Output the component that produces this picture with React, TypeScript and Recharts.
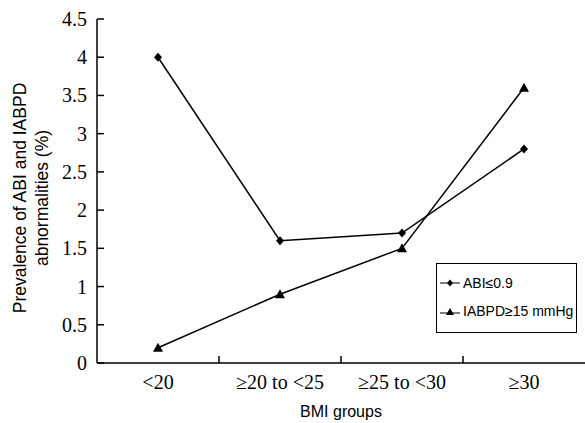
import { LineChart, Line, XAxis, YAxis } from 'recharts'

const groups = ['<20', '≥20 to <25', '≥25 to <30', '≥30']
const abi = [4.0, 1.6, 1.7, 2.8]
const iabpd = [0.2, 0.9, 1.5, 3.6]
const yTicks = [0, 0.5, 1, 1.5, 2, 2.5, 3, 3.5, 4, 4.5]

const data = groups.map((g, i) => ({ group: g, abi: abi[i], iabpd: iabpd[i] }))

const serif = 'Liberation Serif'
const sans = 'Liberation Sans'

const Diamond = (p: any) => {
  const { cx, cy } = p
  return <polygon key={p.index} points={`${cx},${cy - 4.5} ${cx + 4},${cy} ${cx},${cy + 4.5} ${cx - 4},${cy}`} fill="#000" />
}

const Triangle = (p: any) => {
  const { cx, cy } = p
  return <polygon key={p.index} points={`${cx},${cy - 5} ${cx + 5},${cy + 4} ${cx - 5},${cy + 4}`} fill="#000" />
}

// category label + inward tick mark at the left edge of each band (except the first)
const XTick = (p: any) => {
  const { x, y, payload, index } = p
  const half = payload?.offset || 61
  return (
    <g>
      {index > 0 && <line x1={x - half} y1={y} x2={x - half} y2={y - 7} stroke="#000" strokeWidth={1.5} />}
      <text x={x} y={y + 26} textAnchor="middle" fontFamily={serif} fontSize={20} fill="#000" style={{ fontFamily: serif }}>{payload.value}</text>
    </g>
  )
}

const YTick = (p: any) => {
  const { x, y, payload } = p
  return (
    <text x={x} y={y} dy="0.35em" textAnchor="end" fontFamily={serif} fontSize={20} fill="#000" style={{ fontFamily: serif }}>{payload.value}</text>
  )
}

const LegendBox = () => (
  <div style={{ position: 'absolute', left: 436, top: 263, border: '1px solid #000', width: 141, height: 70, boxSizing: 'border-box', fontFamily: sans, fontSize: 14, color: '#000', paddingTop: 10 }}>
    <div style={{ display: 'flex', alignItems: 'center', height: 18 }}>
      <svg width={24} height={10}><line x1={3} y1={5} x2={23} y2={5} stroke="#000" /><polygon points="13,1.5 16,5 13,8.5 10,5" fill="#000" /></svg>
      <span style={{ marginLeft: 2 }}>ABI≤0.9</span>
    </div>
    <div style={{ display: 'flex', alignItems: 'center', height: 18, marginTop: 10 }}>
      <svg width={24} height={10}><line x1={3} y1={7} x2={23} y2={7} stroke="#000" /><polygon points="13,2 17,9 9,9" fill="#000" /></svg>
      <span style={{ marginLeft: 2 }}>IABPD≥15 mmHg</span>
    </div>
  </div>
)

const YLabel = () => (
  <text textAnchor="middle" transform="translate(26,198) rotate(-90)" style={{ fontFamily: sans, fontSize: 17.5, fill: '#000' }}>
    <tspan x={0} dy={0}>Prevalence of ABI and IABPD</tspan>
    <tspan x={0} dy={22}>abnormalities (%)</tspan>
  </text>
)

export default function App() {
  return (
    <div style={{ position: 'absolute', left: 0, top: 0, width: 585, height: 423, background: '#fff', fontFamily: serif }}>
      <LineChart width={585} height={423} data={data} margin={{ top: 19, right: 0, left: 37, bottom: 0 }} style={{ fontFamily: serif }}>
        <XAxis
          dataKey="group"
          scale="band"
          height={60}
          axisLine={{ stroke: '#000', strokeWidth: 1.5 }}
          tickLine={false}
          tickSize={0}
          tickMargin={0}
          tick={<XTick />}
          label={{ value: 'BMI groups', position: 'insideBottom', offset: 6, style: { fontFamily: sans, fontSize: 16, fill: '#000' } }}
        />
        <YAxis
          width={60}
          domain={[0, 4.5]}
          ticks={yTicks}
          interval={0}
          axisLine={{ stroke: '#000', strokeWidth: 1.5 }}
          tickLine={{ stroke: '#000', strokeWidth: 1.5 }}
          tickSize={-7}
          tickMargin={17}
          tick={<YTick />}
          label={<YLabel />}
        />
        <Line dataKey="abi" stroke="#000" strokeWidth={1.5} dot={Diamond} activeDot={false} isAnimationActive={false} />
        <Line dataKey="iabpd" stroke="#000" strokeWidth={1.5} dot={Triangle} activeDot={false} isAnimationActive={false} />
      </LineChart>
      <LegendBox />
    </div>
  )
}
